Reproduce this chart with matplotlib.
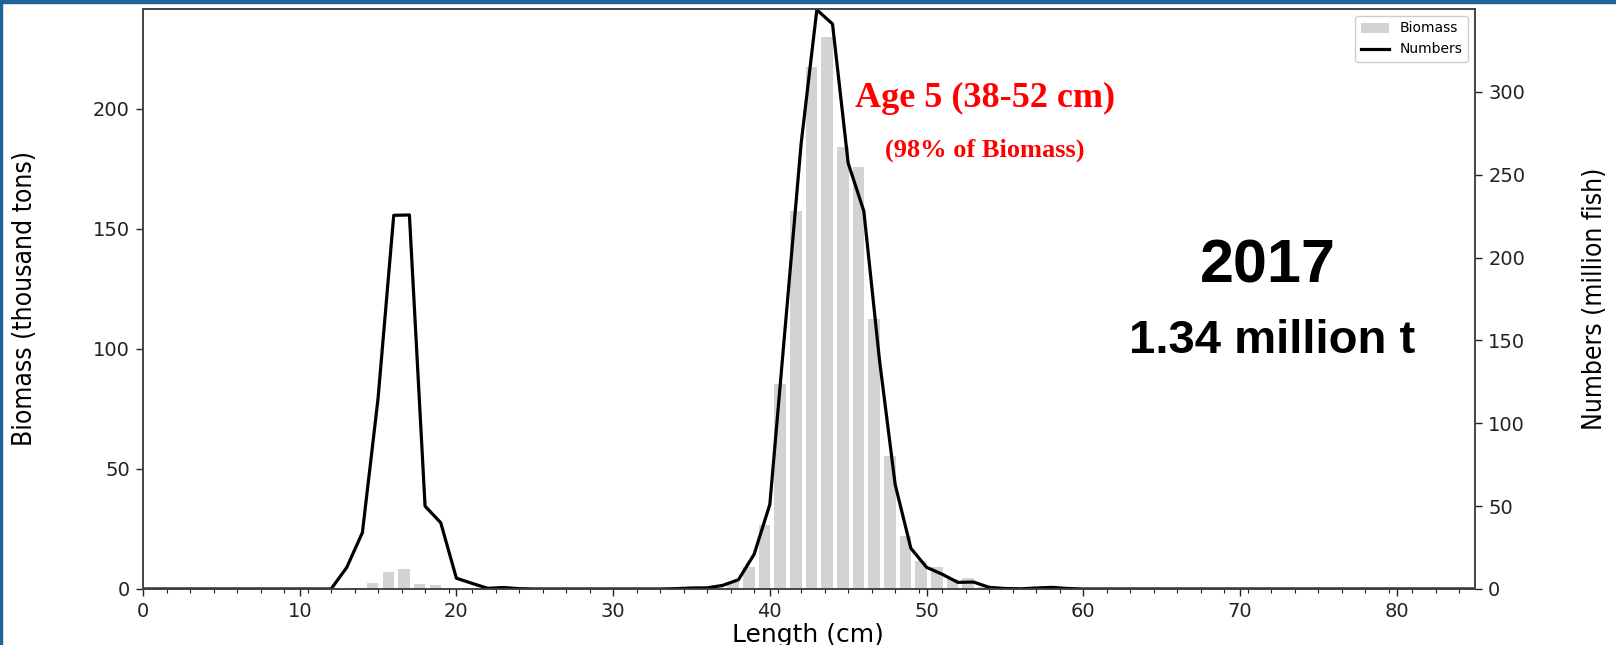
import numpy as np
import matplotlib
matplotlib.use("Agg")
import matplotlib.pyplot as plt
from matplotlib import font_manager
from matplotlib.patches import Rectangle
from matplotlib.ticker import MultipleLocator

# length classes (cm)
length = np.arange(0, 86)

# numbers at length (million fish)
numbers = ([0] * 12 +
           [0, 13, 34, 115, 225.5, 225.7, 50, 40, 6.5, 3.4, 0.4, 0.9, 0.2] +
           [0] * 9 +
           [0.2, 0.6, 0.7, 2.2, 5.6, 21, 51, 160, 269, 349.5, 341, 257, 228,
            138, 63, 24.6, 13.1, 8.9, 4.0, 4.2, 1.0, 0.3, 0.1, 0.6, 1.0, 0.3] +
           [0] * 26)

# biomass at length (thousand tons)
biomass = ([0] * 13 +
           [0.5, 2.6, 6.9, 8.3, 2.0, 1.7, 0.3, 0.1] +
           [0] * 14 +
           [0.2, 0.8, 3.0, 9.2, 26.5, 85.5, 157.3, 217.2, 230.0, 184.2,
            175.6, 112.3, 55.4, 22.2, 11.8, 9.0, 4.0, 4.7, 1.0, 0.3] +
           [0] * 2 +
           [0.2, 0.4] +
           [0] * 27)

left_ticks = [0, 50, 100, 150, 200]
right_ticks = [0, 50, 100, 150, 200, 250, 300]

# narrow font for the rotated axis labels, if one is around
fonts = font_manager.fontManager.ttflist
names = {f.name for f in fonts}
label_kw = dict(family="DejaVu Sans", fontsize=17.4)
if "Liberation Sans Narrow" in names:
    label_kw = dict(family="Liberation Sans Narrow", fontsize=23)
elif any(f.name == "DejaVu Sans" and f.stretch == "condensed" for f in fonts):
    label_kw = dict(family="DejaVu Sans", fontstretch="condensed", fontsize=19)

fig = plt.figure(figsize=(16.16, 6.45), dpi=100)
fig.patch.set_facecolor("white")

# slide border
fig.patches.append(Rectangle((0, 1 - 3 / 645), 1, 3 / 645, transform=fig.transFigure,
                             color="#1f6496", zorder=0))
fig.patches.append(Rectangle((0, 0), 2 / 1616, 1, transform=fig.transFigure,
                             color="#1f6496", zorder=0))

ax = fig.add_axes([143 / 1616, 56 / 645, 1332 / 1616, 580 / 645])
ax2 = ax.twinx()

bars = ax.bar(length + 0.66, biomass, width=0.73, color="lightgray", label="Biomass")
line, = ax2.plot(length, numbers, color="black", lw=2.3, label="Numbers")

ax.set_xlim(0, 85)
ax.set_ylim(0, 241.5)
ax2.set_ylim(0, 350)

ax.xaxis.set_major_locator(MultipleLocator(10))
ax.xaxis.set_minor_locator(MultipleLocator(1.5))
ax.set_yticks(left_ticks)
ax2.set_yticks(right_ticks)

for a in (ax, ax2):
    a.tick_params(which="major", length=5, width=1, labelsize=14, pad=4.5, colors="#222222")
    a.tick_params(which="minor", length=3, width=0.8, colors="#222222")
    for s in a.spines.values():
        s.set_color("#444444")
        s.set_linewidth(1.2)

ax.set_xlabel("Length (cm)", fontsize=18, va="baseline")
ax.xaxis.set_label_coords(0.499, -0.0914)

ax.set_ylabel("Biomass (thousand tons)", va="center", **label_kw)
ax.yaxis.set_label_coords(-0.0886, 0.5)
ax2.set_ylabel("Numbers (million fish)", va="center", **label_kw)
ax2.yaxis.set_label_coords(1.0901, 0.5)

ax2.legend([bars, line], ["Biomass", "Numbers"], loc="upper right", fontsize=10,
           framealpha=1, edgecolor="#cccccc")

ax2.text(0.632, 0.831, "Age 5 (38-52 cm)", transform=ax.transAxes, ha="center",
         va="baseline", color="red", fontsize=26, fontweight="bold", family="Liberation Serif")
ax2.text(0.632, 0.745, "(98% of Biomass)", transform=ax.transAxes, ha="center",
         va="baseline", color="red", fontsize=19, fontweight="bold", family="Liberation Serif")
ax2.text(0.8446, 0.5276, "2017", transform=ax.transAxes, ha="center", va="baseline",
         color="black", fontsize=44, fontweight="bold", family="Liberation Sans")
ax2.text(0.848, 0.407, "1.34 million t", transform=ax.transAxes, ha="center", va="baseline",
         color="black", fontsize=34, fontweight="bold", family="Liberation Sans")

fig.savefig("out.png", dpi=100)
